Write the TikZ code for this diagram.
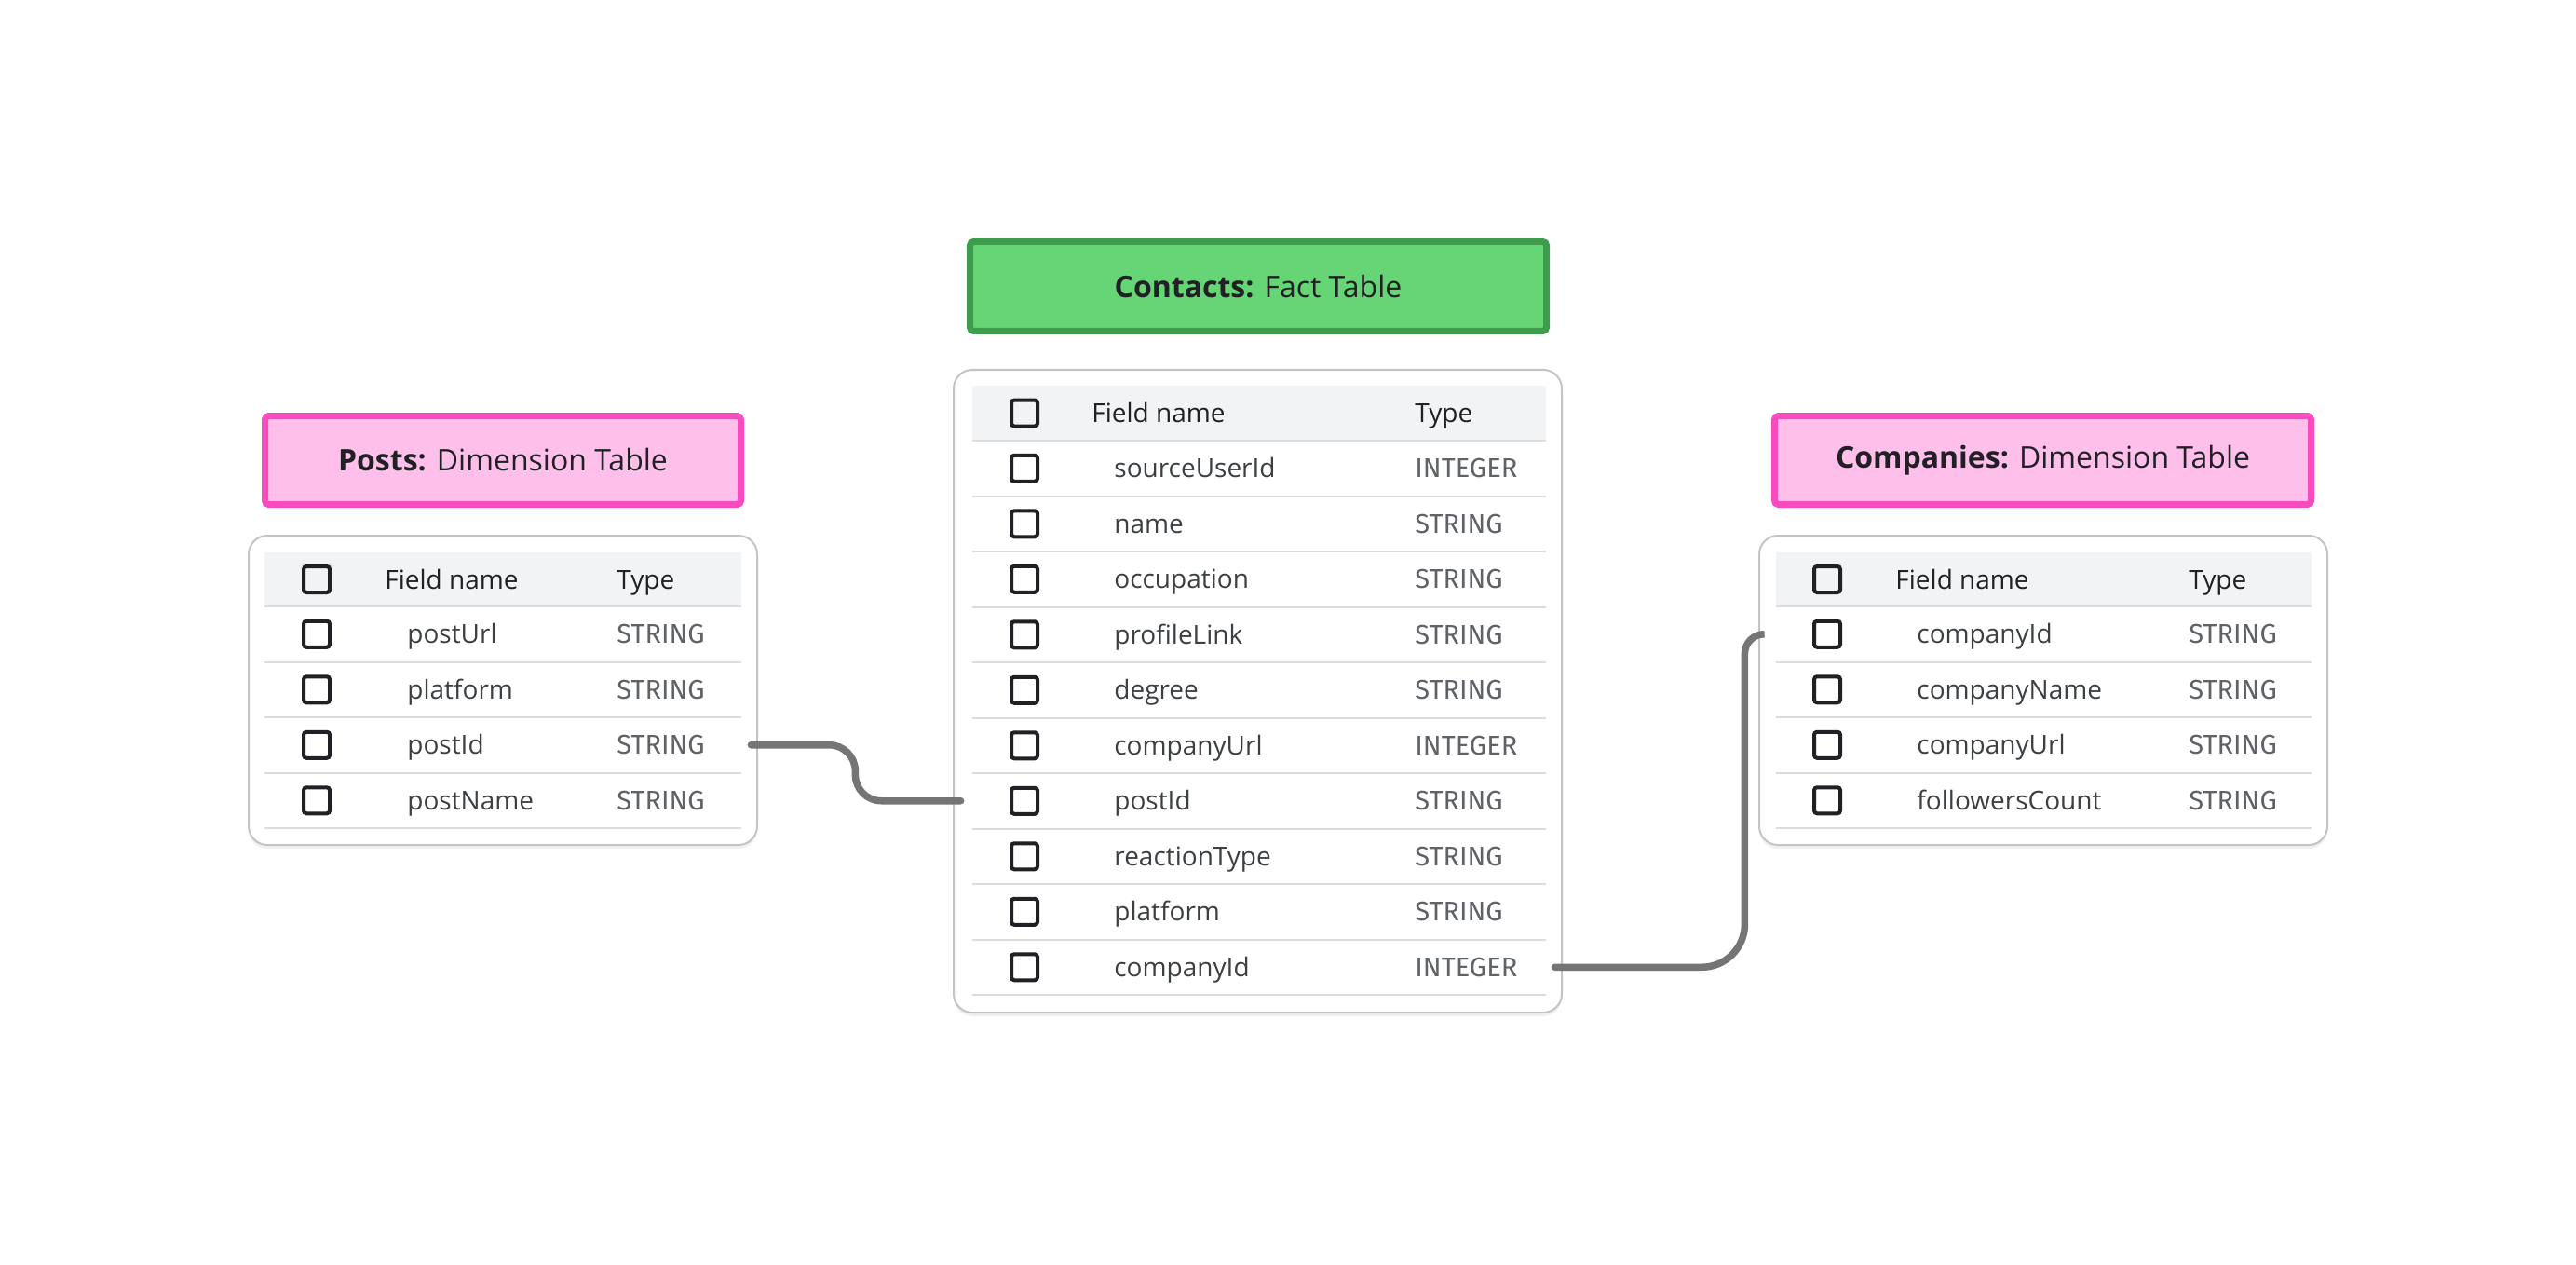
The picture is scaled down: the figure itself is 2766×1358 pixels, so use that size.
\documentclass[tikz,border=0pt]{standalone}
\usepackage{fontspec}
\setmainfont{Open Sans}
\newfontfamily\typefont{Fira Sans}
\usetikzlibrary{positioning}

\definecolor{pinkfill}{HTML}{FEC0EB}
\definecolor{pinkline}{HTML}{F74BBE}
\definecolor{greenfill}{HTML}{66D575}
\definecolor{greenline}{HTML}{3E9D4C}
\definecolor{headfill}{HTML}{F1F3F4}
\definecolor{rowline}{HTML}{DADCE0}
\definecolor{framegray}{HTML}{C4C4C4}
\definecolor{inkdark}{HTML}{202124}
\definecolor{inkfield}{HTML}{3C4043}
\definecolor{inktype}{HTML}{5F6368}
\definecolor{linkgray}{HTML}{757575}

\tikzset{
  tabletitle/.style={draw, line width=3.5pt, rounded corners=2pt, inner sep=0pt,
    minimum height=47.5pt, text=inkdark, font=\fontsize{16}{19}\selectfont},
  dimtitle/.style={tabletitle, fill=pinkfill, draw=pinkline},
  facttitle/.style={tabletitle, fill=greenfill, draw=greenline},
  tableframe/.style={draw=framegray, line width=1pt, rounded corners=10pt, fill=white},
  tableshadow/.style={fill=black!6, rounded corners=10pt},
  headband/.style={fill=headfill},
  rowsep/.style={draw=rowline, line width=1pt},
  tickbox/.style={draw=inkdark, line width=2pt, rounded corners=1.5pt, minimum size=14pt, inner sep=0pt},
  rowcell/.style={inner sep=0pt, minimum height=29.75pt},
  headtext/.style={anchor=west, inner sep=0pt, text height=10pt, text depth=0pt, text=inkdark, font=\fontsize{14}{17}\selectfont},
  fieldtext/.style={headtext, text=inkfield},
  typetext/.style={anchor=west, inner sep=0pt, text height=10pt, text depth=0pt, text=inktype, font=\typefont\fontsize{14.5}{17}\selectfont},
  relation/.style={draw=linkgray, line width=3.75pt, line cap=round},
}

\begin{document}
\begin{tikzpicture}[x=0.5pt, y=-0.5pt]
\useasboundingbox[fill=white] (0,0) rectangle (2766,1358);

% Posts
\node[dimtitle, minimum width=255.5pt] (ptitle) at (540,494) {\textbf{Posts:} Dimension Table};
\fill[tableshadow] (267,579) rectangle (813,911);
\draw[tableframe] (267,575) rectangle (813,907);
\fill[headband] (284,593) rectangle (796,651);
\node[tickbox] (p0-box) at (340,622) {};
\node[headtext] (p0-name) at (413,622) {Field name};
\node[headtext] (p0-type) at (662,622) {Type};
\draw[rowsep] (284,651) -- (796,651);
\foreach \field [count=\i] in {postUrl,platform,postId,postName}{
  \node[rowcell, minimum width=256pt] (p\i) at (540,{651+59.5*\i-29.75}) {};
  \draw[rowsep] (p\i.south west) -- (p\i.south east);
  \node[tickbox] (p\i-box) at (340,{651+59.5*\i-29.75}) {};
  \node[fieldtext] (p\i-name) at (437,{651+59.5*\i-29.75}) {\field};
  \node[typetext] (p\i-type) at (662,{651+59.5*\i-29.75}) {STRING};
}

% Contacts
\node[facttitle, minimum width=309.5pt, minimum height=48pt] (ctitle) at (1351,307.5) {\textbf{Contacts:} Fact Table};
\fill[tableshadow] (1024,401) rectangle (1677,1091);
\draw[tableframe] (1024,397) rectangle (1677,1087);
\fill[headband] (1044,414) rectangle (1660,473);
\node[tickbox] (c0-box) at (1100,443.5) {};
\node[headtext] (c0-name) at (1172,443.5) {Field name};
\node[headtext] (c0-type) at (1519,443.5) {Type};
\draw[rowsep] (1044,473) -- (1660,473);
\foreach \field/\kind [count=\i] in {sourceUserId/INTEGER,name/STRING,occupation/STRING,
    profileLink/STRING,degree/STRING,companyUrl/INTEGER,postId/STRING,
    reactionType/STRING,platform/STRING,companyId/INTEGER}{
  \node[rowcell, minimum width=308pt] (c\i) at (1352,{473+59.5*\i-29.75}) {};
  \draw[rowsep] (c\i.south west) -- (c\i.south east);
  \node[tickbox] (c\i-box) at (1100,{473+59.5*\i-29.75}) {};
  \node[fieldtext] (c\i-name) at (1196,{473+59.5*\i-29.75}) {\field};
  \node[typetext] (c\i-type) at (1519,{473+59.5*\i-29.75}) {\kind};
}

% Companies
\node[dimtitle, minimum width=288pt] (mtitle) at (2193.5,494) {\textbf{Companies:} Dimension Table};
\fill[tableshadow] (1889,579) rectangle (2499,911);
\draw[tableframe] (1889,575) rectangle (2499,907);
\fill[headband] (1907,593) rectangle (2482,651);
\node[tickbox] (m0-box) at (1962,622) {};
\node[headtext] (m0-name) at (2035,622) {Field name};
\node[headtext] (m0-type) at (2350,622) {Type};
\draw[rowsep] (1907,651) -- (2482,651);
\foreach \field [count=\i] in {companyId,companyName,companyUrl,followersCount}{
  \node[rowcell, minimum width=287.5pt] (m\i) at (2194.5,{651+59.5*\i-29.75}) {};
  \draw[rowsep] (m\i.south west) -- (m\i.south east);
  \node[tickbox] (m\i-box) at (1962,{651+59.5*\i-29.75}) {};
  \node[fieldtext] (m\i-name) at (2058,{651+59.5*\i-29.75}) {\field};
  \node[typetext] (m\i-type) at (2350,{651+59.5*\i-29.75}) {STRING};
}

% relations
\coordinate (p3-out) at ([xshift=5pt]p3.east);
\coordinate (c7-in) at ([xshift=-6pt]c7.west);
\coordinate (c10-out) at ([xshift=4.5pt]c10.east);
\coordinate (m1-in) at ([xshift=-6.5pt]m1.west);
\draw[relation, rounded corners=14pt] (p3-out) -- ++(112,0) |- (c7-in);
\draw[relation] (c10-out) [rounded corners=23pt] -- ++(204,0) [rounded corners=10.5pt] |- (m1-in);
\end{tikzpicture}
\end{document}
